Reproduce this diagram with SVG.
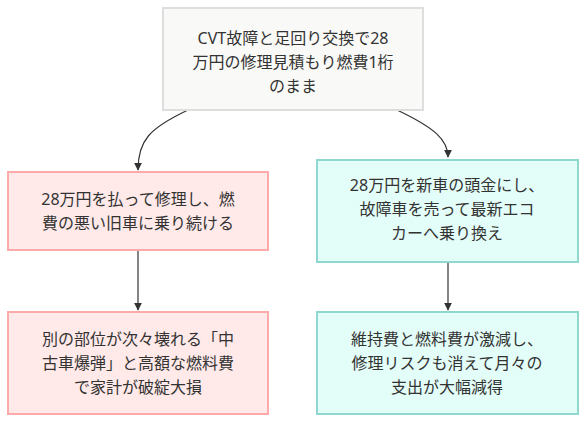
<svg xmlns="http://www.w3.org/2000/svg" width="586" height="422" viewBox="0 0 586 422">
<style>
text{font-family:"Noto Sans","Noto Sans CJK JP",sans-serif;font-size:16px;fill:#333;text-anchor:middle}
.top{fill:#f9f9f7;stroke:#dedede;stroke-width:2}
.bad{fill:#ffe9e9;stroke:#ffaaaa;stroke-width:2}
.good{fill:#e3fdf8;stroke:#8ed8d0;stroke-width:2}
.edge{fill:none;stroke:#333;stroke-width:1.2}
</style>
<defs>
<marker id="ah" viewBox="0 0 10 10" refX="9" refY="5" markerWidth="8" markerHeight="8" markerUnits="userSpaceOnUse" orient="auto">
<path d="M0,0 L10,5 L0,10 z" fill="#333"/>
</marker>
</defs>
<g id="connectors">
<path class="edge" d="M188,110 C150,128 138,140 138,170" marker-end="url(#ah)"/>
<path class="edge" d="M397,110 C435,128 448,140 448,157" marker-end="url(#ah)"/>
<path class="edge" d="M138,251 L138,310" marker-end="url(#ah)"/>
<path class="edge" d="M448,263 L448,310" marker-end="url(#ah)"/>
</g>
<g id="n0">
<rect class="top" x="163" y="8" width="260" height="102"/>
<text x="293" y="44">CVT故障と足回り交換で28</text>
<text x="293" y="68">万円の修理見積もり燃費1桁</text>
<text x="293" y="92">のまま</text>
</g>
<g id="n1">
<rect class="bad" x="8" y="172" width="260" height="78"/>
<text x="138" y="205">28万円を払って修理し、燃</text>
<text x="138" y="229">費の悪い旧車に乗り続ける</text>
</g>
<g id="n2">
<rect class="good" x="317" y="160" width="261" height="102"/>
<text x="447" y="191">28万円を新車の頭金にし、</text>
<text x="447" y="215">故障車を売って最新エコ</text>
<text x="447" y="239">カーへ乗り換え</text>
</g>
<g id="n3">
<rect class="bad" x="8" y="312" width="260" height="102"/>
<text x="138" y="345">別の部位が次々壊れる「中</text>
<text x="138" y="369">古車爆弾」と高額な燃料費</text>
<text x="138" y="393">で家計が破綻大損</text>
</g>
<g id="n4">
<rect class="good" x="317" y="312" width="261" height="102"/>
<text x="447" y="345">維持費と燃料費が激減し、</text>
<text x="447" y="369">修理リスクも消えて月々の</text>
<text x="447" y="393">支出が大幅減得</text>
</g>
</svg>
